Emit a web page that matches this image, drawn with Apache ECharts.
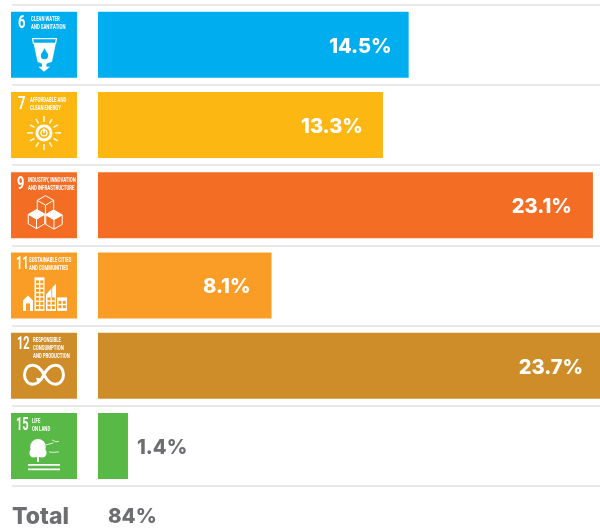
<!DOCTYPE html>
<html lang="en">
<head>
  <meta charset="UTF-8">
  <title>SDG shares</title>
  <script src="https://cdn.jsdelivr.net/npm/echarts@6/dist/echarts.min.js"></script>
  <style>html,body{margin:0;padding:0;background:#fff}</style>
</head>
<body>
<div id="main" style="width:600px;height:529px;"></div>
<script>
  var goalNumbers = ['6', '7', '9', '11', '12', '15'];
  var goalTitles = [
    ['CLEAN WATER', 'AND SANITATION'],
    ['AFFORDABLE AND', 'CLEAN ENERGY'],
    ['INDUSTRY, INNOVATION', 'AND INFRASTRUCTURE'],
    ['SUSTAINABLE CITIES', 'AND COMMUNITIES'],
    ['RESPONSIBLE', 'CONSUMPTION', 'AND PRODUCTION'],
    ['LIFE', 'ON LAND']
  ];
  var shares = [14.5, 13.3, 23.1, 8.1, 23.7, 1.4];
  var goalColors = ['#00aeef', '#fdb713', '#f36d25', '#fa9d26', '#cf8d2a', '#58b947'];
  var totalLabel = 'Total';
  var totalValue = '84%';

  var GREY = '#6d6e71';
  var WHITE = '#fff';

  var numberX = [7, 7, 6, 5, 6, 5];
  var titleX = [20, 19, 17, 18, 22, 21];
  var labelGap = [17, 20, 21, 21, 17, 9];

  function line(x1, y1, x2, y2, w) {
    return { type: 'line', shape: { x1: x1, y1: y1, x2: x2, y2: y2 },
      style: { stroke: WHITE, lineWidth: w || 1, fill: null } };
  }
  function rect(x, y, w, h, fill) {
    return { type: 'rect', shape: { x: x, y: y, width: w, height: h }, style: { fill: fill } };
  }
  function poly(points, fill) {
    return { type: 'polygon', shape: { points: points }, style: { fill: fill } };
  }
  function circle(x, y, r, fill) {
    return { type: 'circle', shape: { cx: x, cy: y, r: r }, style: { fill: fill } };
  }

  function waterGlyph(bg) {
    return [
      line(21, 27, 46, 27, 1.2), line(21.5, 27, 22.5, 32, 1.2), line(45.5, 27, 44.5, 32, 1.2),
      poly([[22.5, 31], [45, 31], [41, 50], [35.5, 52], [35.5, 55], [39, 55], [33, 60], [27.5, 55], [31, 55], [31, 52], [26.5, 50]], WHITE),
      circle(33.5, 44, 3.6, bg),
      poly([[33.5, 36.5], [30.3, 42.5], [36.7, 42.5]], bg)
    ];
  }

  function sunGlyph(bg) {
    var out = [circle(33, 41, 8.5, WHITE), circle(33, 41, 5.6, bg), circle(33, 41, 3.6, WHITE),
      circle(33, 41, 2.4, bg), rect(32.2, 36.5, 1.6, 4.5, WHITE)];
    for (var i = 0; i < 12; i++) {
      var a = i * Math.PI / 6;
      var len = i % 3 === 0 ? 17 : 16;
      out.push(line(33 + 11 * Math.sin(a), 41 - 11 * Math.cos(a), 33 + len * Math.sin(a), 41 - len * Math.cos(a), 1.4));
    }
    return out;
  }

  function cube(cx, cy, r, solidTop) {
    var h = r * 0.866;
    var pts = [[cx, cy - r], [cx + h, cy - r / 2], [cx + h, cy + r / 2], [cx, cy + r], [cx - h, cy + r / 2], [cx - h, cy - r / 2]];
    var out = [];
    if (solidTop) {
      out.push(poly([pts[0], pts[1], [cx, cy], pts[5]], WHITE));
    }
    out.push({ type: 'polygon', shape: { points: pts }, style: { fill: null, stroke: WHITE, lineWidth: 1 } });
    out.push(line(cx, cy, pts[1][0], pts[1][1], 1), line(cx, cy, pts[5][0], pts[5][1], 1), line(cx, cy, cx, cy + r, 1));
    return out;
  }

  function cubesGlyph() {
    return cube(34.5, 33, 9.5, false).concat(cube(25.5, 47, 9.5, true), cube(43, 47.5, 9.5, true));
  }

  function windows(out, x0, y0, cols, rows, w, h, gapX, gapY, bg) {
    for (var c = 0; c < cols; c++) {
      for (var r = 0; r < rows; r++) {
        out.push(rect(x0 + c * (w + gapX), y0 + r * (h + gapY), w, h, bg));
      }
    }
  }

  function cityGlyph(bg) {
    var out = [
      poly([[12, 48], [17, 43], [22, 48], [22, 58.5], [12, 58.5]], WHITE),
      rect(15, 51, 4, 7.5, bg),
      rect(23.5, 25, 10, 33.5, WHITE),
      poly([[35, 58.5], [35, 42], [45, 31], [45, 58.5]], WHITE),
      rect(46, 45, 10, 13.5, WHITE)
    ];
    windows(out, 25, 28, 2, 7, 3, 3, 1.3, 1.3, bg);
    windows(out, 36.5, 45, 2, 3, 3, 3, 1.3, 1.3, bg);
    out.push(rect(40.4, 35, 0.8, 10, bg));
    windows(out, 47.5, 48.5, 2, 2, 3, 3, 1.3, 1.3, bg);
    return out;
  }

  function loopGlyph() {
    return [{
      type: 'path',
      shape: {
        pathData: 'M33 42 C30 36 26 32 21 32 C16 32 12.5 36.5 12.5 42 C12.5 47.5 16 52 21 52 C26 52 30 48 33 42 C36 36 40 32 45 32 C50 32 53.5 36.5 53.5 42 C53.5 47.5 50 52 45 52 C40 52 36 48 33 42',
        layout: 'cover', x: 13.5, y: 32.5, width: 39, height: 19
      },
      style: { fill: 'none', stroke: WHITE, lineWidth: 3 }
    }, poly([[25, 45], [32, 46], [27, 51.5]], WHITE)];
  }

  function treeGlyph() {
    return [
      circle(27, 34, 7.8, WHITE), circle(23, 40, 4.6, WHITE), circle(31, 40, 4.6, WHITE),
      rect(26, 42, 2, 7, WHITE),
      rect(17, 51, 32, 1.8, WHITE), rect(17, 55.5, 32, 1.8, WHITE),
      line(35, 32, 39, 31, 0.8), line(39, 31, 42.5, 30, 0.8),
      line(41, 27, 45, 29, 0.8), line(45, 29, 48, 28.5, 0.8),
      line(38, 39, 42, 39.5, 0.8), line(42, 39.5, 48, 39, 0.8)
    ];
  }

  var glyphs = [waterGlyph, sunGlyph, cubesGlyph, cityGlyph, loopGlyph, treeGlyph];

  function renderIcon(params, api) {
    var i = params.dataIndex;
    var p = api.coord([0, i]);
    var bg = goalColors[i];
    var kids = [rect(0, 0, 66, 66, bg)];
    kids.push({
      type: 'text', x: numberX[i], y: 12, scaleX: goalNumbers[i].length > 1 ? 0.58 : 0.68,
      style: { text: goalNumbers[i], font: 'bold 19px Roboto', fill: WHITE, verticalAlign: 'middle' }
    });
    goalTitles[i].forEach(function (t, k) {
      kids.push({
        type: 'text', x: titleX[i], y: 8 + k * 8, scaleX: 0.6,
        style: { text: t, font: 'bold 7.2px Roboto', fill: WHITE, verticalAlign: 'middle' }
      });
    });
    return { type: 'group', x: p[0] - 87, y: p[1] - 33, children: kids.concat(glyphs[i](bg)) };
  }

  var myChart = echarts.init(document.getElementById('main'));

  var option = {
    animation: false,
    grid: { left: 12, right: 0, top: 4.5, bottom: 43 },
    xAxis: {
      type: 'value', min: -4.013, max: 23.43,
      show: false
    },
    yAxis: {
      type: 'category',
      inverse: true,
      data: goalNumbers,
      axisLine: { show: false },
      axisTick: { show: false },
      axisLabel: { show: false },
      splitLine: { show: true, lineStyle: { color: '#e0e0e0', width: 1.5 } }
    },
    series: [{
      type: 'bar',
      barWidth: 66,
      data: shares.map(function (v, i) {
        var small = v < 5;
        return {
          value: v,
          itemStyle: { color: goalColors[i] },
          label: {
            position: small ? 'right' : 'insideRight',
            distance: labelGap[i],
            color: small ? GREY : WHITE
          }
        };
      }),
      label: {
        show: true,
        fontFamily: 'Inter',
        fontWeight: 800,
        fontSize: 20,
        offset: [0, 2],
        formatter: function (p) { return p.value + '%'; }
      }
    }, {
      type: 'custom',
      renderItem: renderIcon,
      encode: { x: 0, y: 1 },
      data: shares.map(function (v, i) { return [0, i]; })
    }],
    graphic: [{
      type: 'text', left: 12, top: 506,
      style: { text: totalLabel, font: '800 23px Inter', fill: GREY }
    }, {
      type: 'text', left: 108, top: 506,
      style: { text: totalValue, font: '800 20.5px Inter', fill: GREY }
    }]
  };

  myChart.setOption(option);
</script>
</body>
</html>
